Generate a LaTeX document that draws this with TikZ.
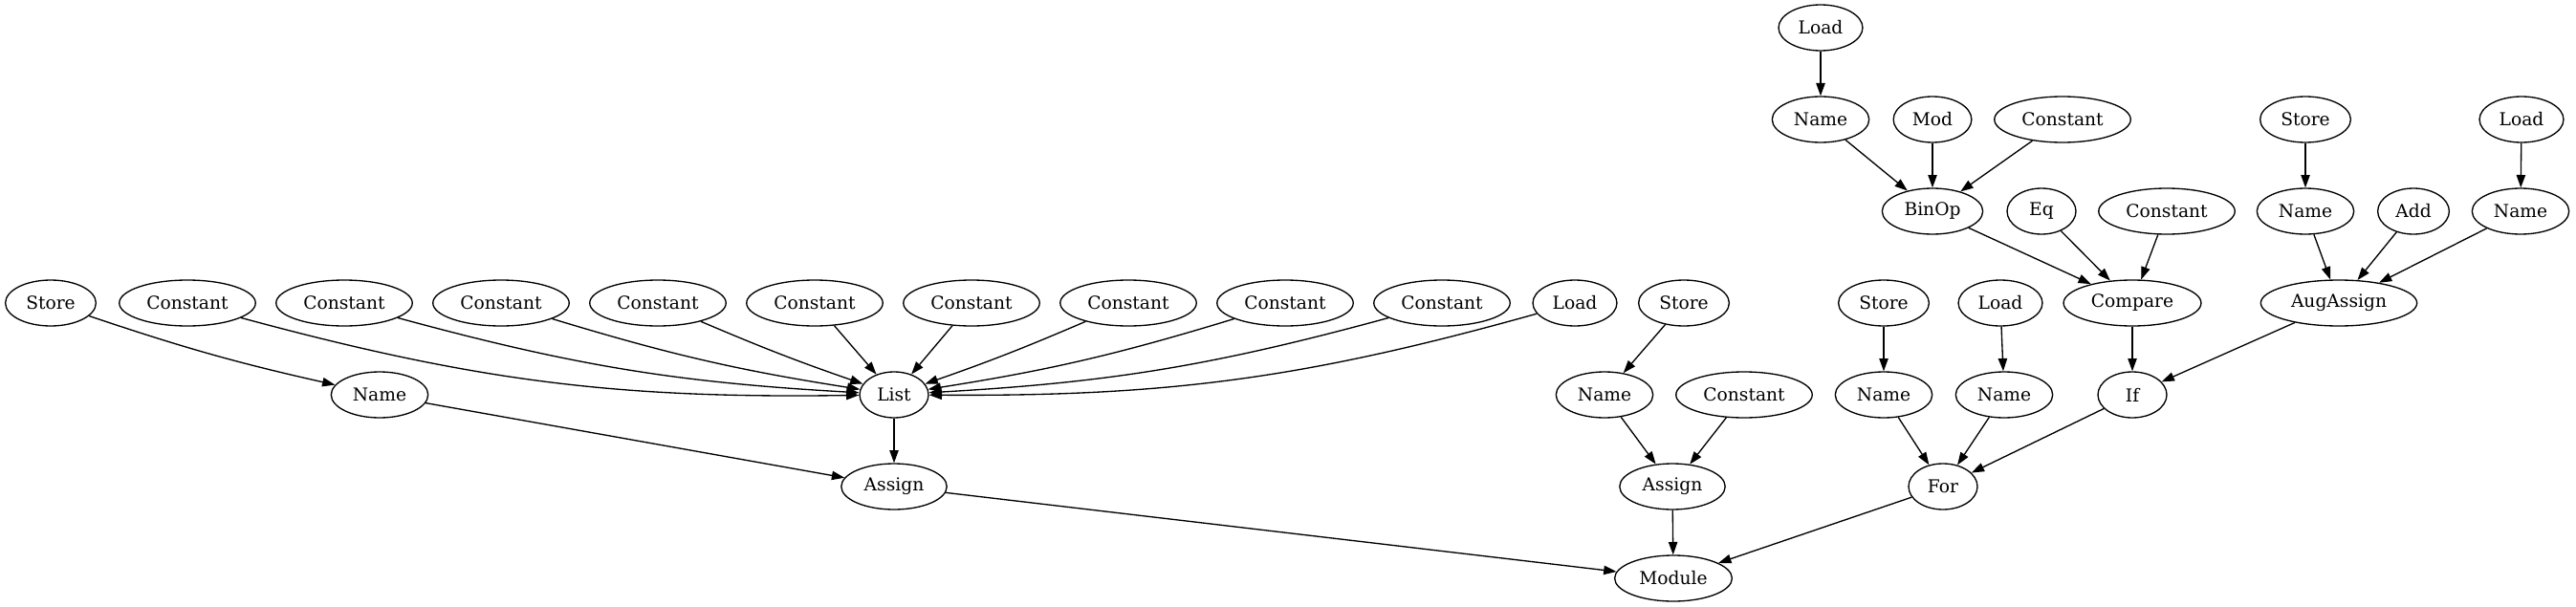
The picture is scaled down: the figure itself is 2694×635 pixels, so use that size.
\documentclass[tikz,border=0pt]{standalone}
\usepackage{fontspec}
\setmainfont{DejaVu Serif}
\usetikzlibrary{shapes.geometric,arrows.meta}

\tikzset{
  ast/.style={ellipse, draw, line width=1pt, inner xsep=5.8pt, inner ysep=2pt,
    minimum width=54pt, minimum height=36pt, font=\fontsize{14pt}{16pt}\selectfont},
  astedge/.style={line width=1pt, -{Triangle[length=10pt,width=7pt]}}
}

\begin{document}
\begin{tikzpicture}[x=0.75pt, y=-0.75pt]
	\useasboundingbox (0,0) rectangle (2694,635);
	% left assignment: Name = List
	\node[ast] (storeA) at (53,317) {Store};
	\foreach \i in {1,...,9}
	\node[ast] (const\i) at ({196+164*(\i-1)},317) {Constant};
	\node[ast] (loadL) at (1647,317) {Load};
	\node[ast] (nameA) at (397,413) {Name};
	\node[ast] (list) at (935,413) {List};
	\node[ast] (assignA) at (935,509) {Assign};
	% second assignment
	\node[ast] (storeB) at (1761,317) {Store};
	\node[ast] (nameB) at (1678,413) {Name};
	\node[ast] (constB) at (1824,413) {Constant};
	\node[ast] (assignB) at (1749,509) {Assign};
	\node[ast] (module) at (1750,605) {Module};
	% for loop
	\node[ast] (storeF) at (1970,317) {Store};
	\node[ast] (loadF) at (2092,317) {Load};
	\node[ast] (nameF) at (1970,413) {Name};
	\node[ast] (nameG) at (2096,413) {Name};
	\node[ast] (for) at (2032,509) {For};
	% if and test
	\node[ast] (loadT) at (1904,29) {Load};
	\node[ast] (nameT) at (1904,125) {Name};
	\node[ast] (mod) at (2021,125) {Mod};
	\node[ast] (constT) at (2157,125) {Constant};
	\node[ast] (binop) at (2021,221) {BinOp};
	\node[ast] (eq) at (2135,221) {Eq};
	\node[ast] (constC) at (2266,221) {Constant};
	\node[ast] (compare) at (2230,317) {Compare};
	\node[ast] (if) at (2230,413) {If};
	% augmented assignment
	\node[ast] (storeU) at (2411,125) {Store};
	\node[ast] (loadU) at (2637,125) {Load};
	\node[ast] (nameU) at (2411,221) {Name};
	\node[ast] (add) at (2524,221) {Add};
	\node[ast] (nameV) at (2636,221) {Name};
	\node[ast] (augassign) at (2446,317) {AugAssign};

	\draw[astedge] (storeA) to[bend right=3] (nameA);
	\foreach \i/\b in {1/8,2/6,3/4,4/2,5/0,6/0,7/-2,8/-4,9/-6}
	\draw[astedge] (const\i) to[bend right=\b] (list);
	\draw[astedge] (loadL) to[bend left=8] (list);
	\draw[astedge] (nameA) -- (assignA);
	\draw[astedge] (list) -- (assignA);
	\draw[astedge] (assignA) -- (module);
	\draw[astedge] (storeB) -- (nameB);
	\draw[astedge] (nameB) -- (assignB);
	\draw[astedge] (constB) -- (assignB);
	\draw[astedge] (assignB) -- (module);
	\draw[astedge] (storeF) -- (nameF);
	\draw[astedge] (loadF) -- (nameG);
	\draw[astedge] (nameF) -- (for);
	\draw[astedge] (nameG) -- (for);
	\draw[astedge] (if) -- (for);
	\draw[astedge] (for) -- (module);
	\draw[astedge] (loadT) -- (nameT);
	\draw[astedge] (nameT) -- (binop);
	\draw[astedge] (mod) -- (binop);
	\draw[astedge] (constT) -- (binop);
	\draw[astedge] (binop) -- (compare);
	\draw[astedge] (eq) -- (compare);
	\draw[astedge] (constC) -- (compare);
	\draw[astedge] (compare) -- (if);
	\draw[astedge] (storeU) -- (nameU);
	\draw[astedge] (loadU) -- (nameV);
	\draw[astedge] (nameU) -- (augassign);
	\draw[astedge] (add) -- (augassign);
	\draw[astedge] (nameV) -- (augassign);
	\draw[astedge] (augassign) -- (if);
\end{tikzpicture}
\end{document}
